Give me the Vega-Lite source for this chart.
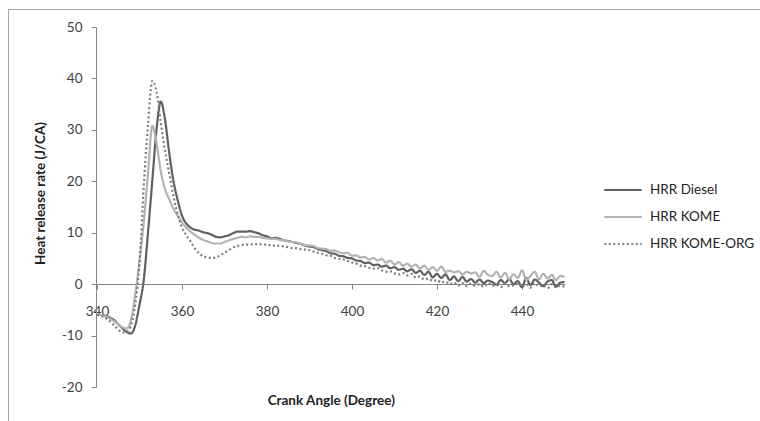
{
  "$schema": "https://vega.github.io/schema/vega-lite/v6.json",
  "width": 760,
  "height": 420,
  "padding": {"left": 8, "top": 9, "right": 0, "bottom": 0},
  "background": "white",
  "config": {
    "view": {"stroke": "#a6a6a6", "strokeWidth": 1},
    "font": "Lato",
    "axis": {"grid": false, "domainColor": "#868686", "tickColor": "#868686", "labelColor": "#404040", "labelFont": "Lato", "labelFontSize": 13.5, "titleFont": "Lato", "titleFontSize": 13.5, "titleFontWeight": "bold", "titleColor": "#222222", "tickSize": 5}
  },
  "data": {
    "values": [
      {"ca":340,"D":-6.0,"K":-6.0,"O":-6.0},
      {"ca":341,"D":-6.0,"K":-6.0,"O":-6.2},
      {"ca":342,"D":-6.2,"K":-6.3,"O":-6.6},
      {"ca":343,"D":-6.5,"K":-6.7,"O":-7.2},
      {"ca":344,"D":-7.0,"K":-7.2,"O":-8.0},
      {"ca":345,"D":-7.8,"K":-7.8,"O":-8.8},
      {"ca":346,"D":-8.6,"K":-8.4,"O":-9.4},
      {"ca":347,"D":-9.3,"K":-8.6,"O":-9.3},
      {"ca":348,"D":-9.6,"K":-7.0,"O":-8.0},
      {"ca":349,"D":-8.0,"K":-2.0,"O":-4.0},
      {"ca":350,"D":-4.0,"K":4.5,"O":4.0},
      {"ca":351,"D":0.8,"K":12.0,"O":19.0},
      {"ca":352,"D":10.0,"K":21.5,"O":31.0},
      {"ca":353,"D":20.0,"K":30.8,"O":39.5},
      {"ca":354,"D":30.0,"K":27.5,"O":37.5},
      {"ca":355,"D":35.5,"K":22.0,"O":31.5},
      {"ca":356,"D":32.0,"K":18.5,"O":26.0},
      {"ca":357,"D":25.5,"K":16.5,"O":21.5},
      {"ca":358,"D":20.0,"K":14.6,"O":17.0},
      {"ca":359,"D":16.3,"K":13.3,"O":13.5},
      {"ca":360,"D":13.3,"K":12.0,"O":11.0},
      {"ca":361,"D":11.8,"K":11.0,"O":9.5},
      {"ca":362,"D":11.0,"K":10.2,"O":8.3},
      {"ca":363,"D":10.6,"K":9.6,"O":7.0},
      {"ca":364,"D":10.4,"K":9.0,"O":6.0},
      {"ca":365,"D":10.1,"K":8.6,"O":5.4},
      {"ca":366,"D":9.9,"K":8.3,"O":5.2},
      {"ca":367,"D":9.6,"K":8.0,"O":5.1},
      {"ca":368,"D":9.2,"K":7.9,"O":5.2},
      {"ca":369,"D":9.1,"K":7.9,"O":5.6},
      {"ca":370,"D":9.3,"K":8.2,"O":6.1},
      {"ca":371,"D":9.5,"K":8.5,"O":6.6},
      {"ca":372,"D":9.9,"K":8.8,"O":7.1},
      {"ca":373,"D":10.2,"K":9.0,"O":7.4},
      {"ca":374,"D":10.2,"K":9.2,"O":7.6},
      {"ca":375,"D":10.2,"K":9.1,"O":7.7},
      {"ca":376,"D":10.3,"K":9.3,"O":7.7},
      {"ca":377,"D":10.1,"K":9.2,"O":7.8},
      {"ca":378,"D":9.9,"K":9.2,"O":7.7},
      {"ca":379,"D":9.5,"K":9.0,"O":7.8},
      {"ca":380,"D":9.3,"K":8.9,"O":7.6},
      {"ca":381,"D":8.9,"K":8.8,"O":7.6},
      {"ca":382,"D":9.0,"K":8.8,"O":7.4},
      {"ca":383,"D":8.8,"K":8.6,"O":7.5},
      {"ca":384,"D":8.5,"K":8.5,"O":7.3},
      {"ca":385,"D":8.4,"K":8.3,"O":7.2},
      {"ca":386,"D":8.2,"K":8.2,"O":7.0},
      {"ca":387,"D":8.0,"K":8.1,"O":7.0},
      {"ca":388,"D":7.8,"K":7.8,"O":6.8},
      {"ca":389,"D":7.5,"K":7.6,"O":6.7},
      {"ca":390,"D":7.3,"K":7.5,"O":6.6},
      {"ca":391,"D":7.2,"K":7.4,"O":6.3},
      {"ca":392,"D":6.8,"K":7.0,"O":6.1},
      {"ca":393,"D":6.6,"K":6.9,"O":5.9},
      {"ca":394,"D":6.4,"K":6.8,"O":5.6},
      {"ca":395,"D":6.0,"K":6.5,"O":5.5},
      {"ca":396,"D":5.9,"K":6.5,"O":5.1},
      {"ca":397,"D":5.5,"K":6.2,"O":4.9},
      {"ca":398,"D":5.4,"K":6.0,"O":4.8},
      {"ca":399,"D":5.1,"K":6.1,"O":4.5},
      {"ca":400,"D":5.0,"K":5.5,"O":4.2},
      {"ca":401,"D":4.6,"K":5.6,"O":4.0},
      {"ca":402,"D":4.5,"K":5.2,"O":3.6},
      {"ca":403,"D":4.1,"K":5.3,"O":3.5},
      {"ca":404,"D":4.2,"K":4.8,"O":3.2},
      {"ca":405,"D":3.7,"K":5.1,"O":3.0},
      {"ca":406,"D":3.8,"K":4.6,"O":3.1},
      {"ca":407,"D":3.4,"K":4.9,"O":2.7},
      {"ca":408,"D":3.6,"K":4.2,"O":2.4},
      {"ca":409,"D":3.1,"K":4.6,"O":2.5},
      {"ca":410,"D":3.3,"K":3.8,"O":2.1},
      {"ca":411,"D":2.8,"K":4.3,"O":1.9},
      {"ca":412,"D":3.0,"K":3.6,"O":2.2},
      {"ca":413,"D":2.5,"K":4.0,"O":1.7},
      {"ca":414,"D":2.9,"K":3.4,"O":2.0},
      {"ca":415,"D":2.2,"K":3.8,"O":1.3},
      {"ca":416,"D":2.6,"K":3.0,"O":1.5},
      {"ca":417,"D":1.8,"K":3.6,"O":0.9},
      {"ca":418,"D":2.4,"K":2.8,"O":1.1},
      {"ca":419,"D":1.3,"K":3.3,"O":0.6},
      {"ca":420,"D":2.0,"K":2.6,"O":0.8},
      {"ca":421,"D":1.2,"K":3.4,"O":0.3},
      {"ca":422,"D":1.9,"K":2.4,"O":0.5},
      {"ca":423,"D":0.8,"K":2.6,"O":0.0},
      {"ca":424,"D":1.5,"K":2.3,"O":0.3},
      {"ca":425,"D":0.6,"K":2.5,"O":-0.3},
      {"ca":426,"D":1.4,"K":1.9,"O":0.2},
      {"ca":427,"D":0.5,"K":2.4,"O":-0.4},
      {"ca":428,"D":1.0,"K":2.1,"O":0.1},
      {"ca":429,"D":0.3,"K":2.3,"O":-0.3},
      {"ca":430,"D":0.9,"K":1.4,"O":0.0},
      {"ca":431,"D":0.2,"K":2.6,"O":-0.5},
      {"ca":432,"D":0.7,"K":1.8,"O":0.2},
      {"ca":433,"D":0.4,"K":1.6,"O":-0.3},
      {"ca":434,"D":-0.1,"K":2.4,"O":-0.1},
      {"ca":435,"D":0.8,"K":1.3,"O":-0.6},
      {"ca":436,"D":0.2,"K":2.2,"O":0.1},
      {"ca":437,"D":1.0,"K":1.0,"O":-0.4},
      {"ca":438,"D":0.0,"K":1.9,"O":-0.2},
      {"ca":439,"D":0.6,"K":1.2,"O":0.3},
      {"ca":440,"D":-0.6,"K":2.7,"O":-0.5},
      {"ca":441,"D":1.2,"K":0.8,"O":0.0},
      {"ca":442,"D":-0.2,"K":1.6,"O":-0.7},
      {"ca":443,"D":0.9,"K":2.4,"O":0.2},
      {"ca":444,"D":0.3,"K":0.9,"O":-0.4},
      {"ca":445,"D":-0.4,"K":2.0,"O":-0.2},
      {"ca":446,"D":0.5,"K":1.1,"O":-0.8},
      {"ca":447,"D":0.8,"K":1.8,"O":0.0},
      {"ca":448,"D":-0.5,"K":0.8,"O":-0.6},
      {"ca":449,"D":0.3,"K":1.6,"O":-0.3},
      {"ca":450,"D":0.4,"K":1.4,"O":-0.5}
    ]
  },
  "transform": [
    {"fold": ["D", "K", "O"], "as": ["key", "v"]},
    {"lookup": "key", "from": {"data": {"values": [{"key": "D", "series": "HRR Diesel"}, {"key": "K", "series": "HRR KOME"}, {"key": "O", "series": "HRR KOME-ORG"}]}, "key": "key", "fields": ["series"]}}
  ],
  "mark": {"type": "line", "strokeWidth": 2.2, "interpolate": "monotone"},
  "encoding": {
    "x": {
      "field": "ca", "type": "quantitative",
      "scale": {"domain": [340, 450], "range": [89, 556.5], "nice": false, "zero": false},
      "axis": {"values": [340, 360, 380, 400, 420, 440], "offset": -145, "labelPadding": 15, "title": "Crank Angle (Degree)", "titlePadding": 76, "labelFlush": false}
    },
    "y": {
      "field": "v", "type": "quantitative",
      "scale": {"domain": [-20, 50], "range": [378, 18], "nice": false, "zero": false},
      "axis": {"values": [-20, -10, 0, 10, 20, 30, 40, 50], "offset": -88, "labelPadding": 9, "labelExpr": "replace(datum.label, '\u2212', '-')", "title": "Heat release rate (J/CA)", "titlePadding": 14, "titleY": 184}
    },
    "color": {
      "field": "series", "type": "nominal",
      "scale": {"domain": ["HRR Diesel", "HRR KOME", "HRR KOME-ORG"], "range": ["#606060", "#b3b3b3", "#7d7d7d"]},
      "legend": {"title": null, "orient": "none", "legendX": 595, "legendY": 161, "symbolType": "stroke", "symbolSize": 1400, "symbolStrokeWidth": 2.2, "labelFont": "Lato", "labelFontSize": 13.5, "labelColor": "#222222", "rowPadding": -9, "labelOffset": 7}
    },
    "strokeDash": {
      "field": "series", "type": "nominal",
      "scale": {"domain": ["HRR Diesel", "HRR KOME", "HRR KOME-ORG"], "range": [[1, 0], [1, 0], [2, 2.5]]},
      "legend": {"title": null, "orient": "none", "legendX": 595, "legendY": 161, "symbolType": "stroke", "symbolSize": 1400, "symbolStrokeWidth": 2.2, "labelFont": "Lato", "labelFontSize": 13.5, "labelColor": "#222222", "rowPadding": -9, "labelOffset": 7}
    }
  }
}
